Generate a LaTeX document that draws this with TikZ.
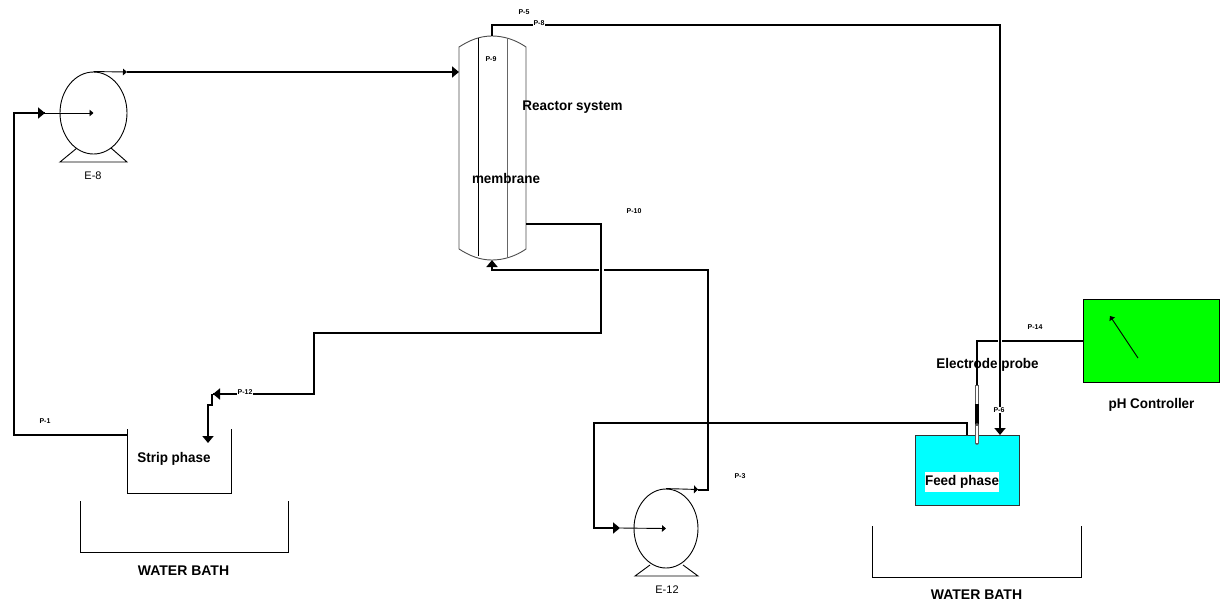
\documentclass[tikz,border=0pt]{standalone}
\usepackage{fontspec}
\setmainfont{Liberation Sans}
\newfontfamily\ttlfont[FakeStretch=0.96]{Liberation Sans}
\usetikzlibrary{arrows.meta,shapes.geometric,calc}
\definecolor{feedcyan}{RGB}{0,255,255}
\definecolor{ctrlgreen}{RGB}{0,255,0}
\tikzset{
  pipe/.style={line width=2.7pt,black,line join=miter},
  thinpipe/.style={line width=0.9pt,black},
  outline/.style={line width=0.9pt,black},
  tipbig/.style={-{Triangle[length=7pt,width=11pt]}},
  tipsmall/.style={-{Triangle[length=4pt,width=6.5pt]}},
  pumpbody/.style={ellipse,draw,line width=0.9pt,inner sep=0pt,fill=white},
  tag/.style={font=\fontsize{7}{7}\selectfont\bfseries,inner sep=0.6pt},
  tagw/.style={tag,fill=white},
  pumpname/.style={font=\fontsize{11}{11}\selectfont,inner sep=0pt},
  title/.style={font=\fontsize{14}{14}\selectfont\ttlfont\bfseries,inner sep=0pt},
  bathtitle/.style={font=\fontsize{14}{14}\selectfont\bfseries,inner sep=0pt},
  bridge/.style={line width=5pt,white},
}
\begin{document}
\begin{tikzpicture}[x=1pt,y=-1pt]
\useasboundingbox (0,0) rectangle (1220,603);

% coordinates
\coordinate (vesselL) at (459,72);
\coordinate (vesselT) at (492,36);
\coordinate (vesselB) at (492,260);
\coordinate (vesselR) at (526,224);
\coordinate (stripL) at (127,435);
\coordinate (stripIn) at (208,443);
\coordinate (feedIn) at (1000,435);
\coordinate (feedOut) at (967,435);
\coordinate (probeTip) at (977,443);

% tanks
\node[draw=black!80,line width=0.9pt,fill=feedcyan,minimum width=104pt,minimum height=70pt,inner sep=0pt,anchor=north west] (feed) at (915,435) {};
\node[draw,line width=0.9pt,fill=ctrlgreen,minimum width=136pt,minimum height=83pt,inner sep=0pt,anchor=north west] (ctrl) at (1083,299) {};
\coordinate (ctrlA) at (1138,358);
\coordinate (ctrlB) at (1110,316);
\draw[thinpipe,tipsmall] (ctrlA) -- (ctrlB);
\draw[outline] (127,429) -- (127,493) -- (231,493) -- (231,429);
\draw[outline] (80,501) -- (80,552) -- (288,552) -- (288,501);
\draw[outline] (872,526) -- (872,577) -- (1081,577) -- (1081,526);

% pumps
\draw[outline] (77,148) -- (60,162) -- (127,162) -- (111,148);
\node[pumpbody,minimum width=67pt,minimum height=82pt] (E8) at (93.5,113) {};
\draw[outline] (650,565) -- (635,576) -- (698,576) -- (683,565);
\node[pumpbody,minimum width=64pt,minimum height=79pt] (E12) at (666,528.5) {};

% vessel
\draw[outline,black!70] (459,249) -- (459,47) .. controls (470,40) and (480,36) .. (492,36) .. controls (504,36) and (516,40) .. (526,47) -- (526,249) .. controls (516,256) and (504,260) .. (492,260) .. controls (480,260) and (470,256) .. (459,249);
\draw[outline] (478,38) -- (478,256);
\draw[outline,black!60] (507,38) -- (507,257);

% pipes
\coordinate (a1) at (14,435);
\coordinate (a2) at (14,113);
\coordinate (a3) at (45,113);
\draw[pipe] (stripL) -- (a1) -- (a2) -- (a3);
\draw[pipe,tipbig] ($(a2)+(20,0)$) -- (a3);
\draw[thinpipe,tipsmall] (a3) -- (E8.center);

\coordinate (b1) at (127,72);
\draw[thinpipe,tipsmall] (E8.north) -- (b1);
\draw[pipe,tipbig] (b1) -- (vesselL);

\coordinate (c1) at (492,25);
\coordinate (c2) at (1000,25);
\draw[pipe,tipbig] (vesselT) -- (c1) -- (c2) -- (feedIn);

\coordinate (f1) at (1083,341);
\coordinate (f2) at (977,341);
\draw[pipe] (ctrl.west |- f1) -- (f2) -- (977,385);
\draw[bridge,line width=4pt] (1000,336) -- (1000,346);
\draw[pipe] (1000,330) -- (1000,350);

\coordinate (d1) at (708,490);
\coordinate (d2) at (708,270);
\coordinate (d3) at (492,270);
\draw[thinpipe,-{Triangle[length=4pt,width=8pt]}] (E12.north) -- (698,489.5);
\draw[pipe,tipbig] (698,490) -- (d1) -- (d2) -- (d3) -- (vesselB);

\coordinate (e1) at (601,224);
\coordinate (e2) at (601,333);
\coordinate (e3) at (314,333);
\coordinate (e4) at (314,394);
\coordinate (e5) at (213,394);
\draw[bridge] (601,264) -- (601,276);
\draw[pipe] (vesselR) -- (e1) -- (e2) -- (e3) -- (e4) -- (e5);
\draw[pipe,tipbig] (226,394) -- (e5);
\draw[pipe,tipbig] (212,394) -- (212,405) -- (208,405) -- (stripIn);

\coordinate (g1) at (967,423);
\coordinate (g2) at (594,423);
\coordinate (g3) at (594,528);
\coordinate (g4) at (620,528);
\draw[bridge] (708,418) -- (708,428);
\draw[pipe] (708,405) -- (708,440);
\draw[pipe,tipbig] (feedOut) -- (g1) -- (g2) -- (g3) -- (g4);
\draw[thinpipe,tipsmall] (g4) -- (E12.center);

% probe
\draw[line width=3.6pt,black!65] (977,385) -- (977,404);
\draw[line width=1.8pt,white] (977,385.5) -- (977,403.5);
\draw[line width=3.6pt,black] (977,404) -- (977,425);
\draw[line width=3.6pt,black!65,line cap=round] (977,425) -- (probeTip);
\draw[line width=1.8pt,white] (977,425.5) -- (probeTip);

% labels
\node[tag] (p1) at (45,421.5) {P-1};
\node[tag] (p5) at (524,12.5) {P-5};
\node[tagw] (p8) at (539,23.5) {P-8};
\node[tag] (p9) at (491,59.5) {P-9};
\node[tag] (p10) at (634,211.5) {P-10};
\node[tagw] (p12) at (245,392.5) {P-12};
\node[tag] (p3) at (740,476.5) {P-3};
\node[tagw] (p6) at (999,410) {P-6};
\node[tag] (p14) at (1035,327.5) {P-14};
\node[pumpname] (n8) at (93,176) {E-8};
\node[pumpname] (n12) at (667,590) {E-12};
\node[title] (t1) at (572.5,107) {Reactor system};
\node[title] (t2) at (506,178) {membrane};
\node[title] (t3) at (987.5,365) {Electrode probe};
\node[title] (t4) at (1151.5,405) {pH Controller};
\node[title] (t5) at (174,459) {Strip phase};
\node[title,fill=white,inner xsep=0.5pt,inner ysep=3pt] (t6) at (962,482) {Feed phase};
\node[bathtitle] (t7) at (183.5,571) {WATER BATH};
\node[bathtitle] (t8) at (976.5,595) {WATER BATH};
\end{tikzpicture}
\end{document}
